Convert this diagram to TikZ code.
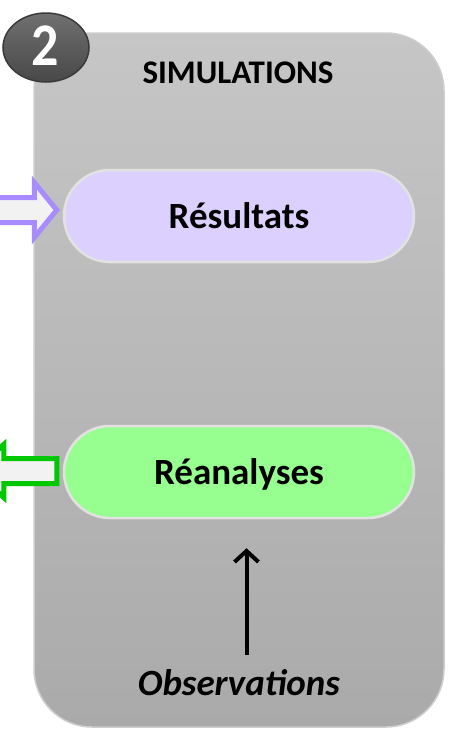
\documentclass[tikz,border=0pt]{standalone}
\usepackage{fontspec}
\setmainfont{Carlito}
\usetikzlibrary{arrows.meta,calc}
\definecolor{boxtop}{RGB}{198,198,198}
\definecolor{boxbot}{RGB}{170,170,170}
\definecolor{boxedge}{RGB}{205,205,205}
\definecolor{pilledge}{RGB}{226,226,226}
\definecolor{lav}{RGB}{220,208,255}
\definecolor{lgreen}{RGB}{150,255,144}
\definecolor{parrow}{RGB}{168,140,255}
\definecolor{garrow}{RGB}{0,200,0}
\definecolor{afill}{RGB}{242,242,242}
\definecolor{badgetop}{RGB}{112,112,112}
\definecolor{badgebot}{RGB}{72,72,72}
\definecolor{badgeedge}{RGB}{58,58,58}
\tikzset{
  mainbox/.style={draw=boxedge,line width=1.5pt,top color=boxtop,bottom color=boxbot,rounded corners=58pt},
  pill/.style={draw=pilledge,line width=2.5pt,rounded corners=46pt,minimum width=350pt,minimum height=92pt,inner sep=0pt,text height=24pt,text depth=0pt,font=\fontsize{37}{40}\selectfont\bfseries},
  blockarrow/.style={line width=5pt,fill=afill,line join=miter},
  title/.style={font=\fontsize{33}{36}\selectfont\bfseries,anchor=base,inner sep=0pt},
  obstext/.style={font=\fontsize{37}{40}\selectfont\bfseries\itshape,anchor=base,inner sep=0pt},
  badge/.style={draw=badgeedge,line width=1.5pt,top color=badgetop,bottom color=badgebot},
  obsarrow/.style={line width=4pt,-{Straight Barb[length=11pt,width=24pt]}}
}
\begin{document}
\begin{tikzpicture}[x=1pt,y=-1pt]
\useasboundingbox (0,0) rectangle (451,731);
% main box
\path[mainbox] (34,33) rectangle (444,727);
% badge
\path[badge] (46,47.5) ellipse [x radius=43pt, y radius=34.5pt];
\node[text=white,font=\fontsize{54}{58}\selectfont\bfseries,inner sep=0pt,yscale=1.12] (badgenum) at (45,46) {2};
% title
\node[title] (title) at (238,83) {SIMULATIONS};
% pills
\node[pill,fill=lav] (res) at (239,216) {Résultats};
\node[pill,fill=lgreen] (rea) at (239,472) {Réanalyses};
% observations
\node[obstext] (obs) at (239,695) {Observations};
\draw[obsarrow] ($(obs.base)+(7.5,-40)$) -- ($(rea.south)+(7.5,29)$);
% purple block arrow into Resultats
\begin{scope}[shift={(res.west)}]
\draw[blockarrow,draw=parrow] (-74,-18.5) -- (-28.5,-18.5) -- (-28.5,-33.5) -- (-6,-6) -- (-28.5,21.5) -- (-28.5,6.5) -- (-74,6.5) -- cycle;
\end{scope}
% green block arrow out of Reanalyses
\begin{scope}[shift={(rea.west)}]
\draw[blockarrow,draw=garrow] (-6,-13.5) -- (-59,-13.5) -- (-59,-27.5) -- (-88,-1) -- (-59,25.5) -- (-59,11.5) -- (-6,11.5) -- cycle;
\end{scope}
\end{tikzpicture}
\end{document}
